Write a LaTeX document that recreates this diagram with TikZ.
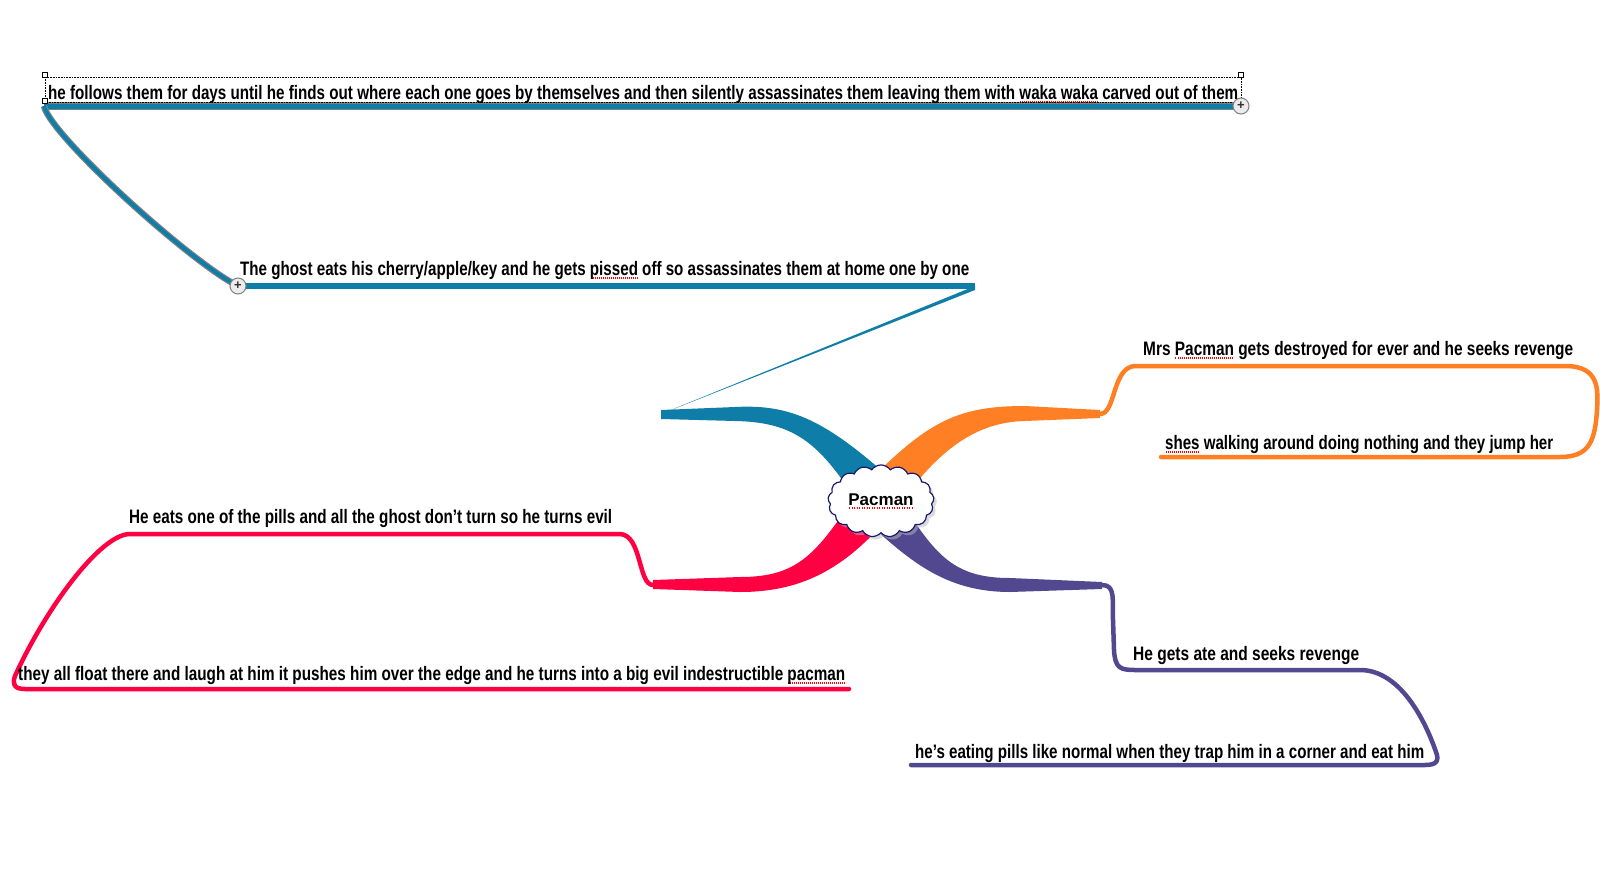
\documentclass[tikz,border=0pt]{standalone}
\usepackage{fontspec}
\setmainfont{Liberation Sans}
\usepackage{graphicx}
\usetikzlibrary{shapes.symbols, shadows, positioning, calc, backgrounds}
\definecolor{ghostBlue}{RGB}{14, 126, 168}
\definecolor{revengeOrange}{RGB}{255, 128, 36}
\definecolor{evilRed}{RGB}{255, 0, 66}
\definecolor{eatenPurple}{RGB}{82, 72, 144}
\definecolor{cloudNavy}{RGB}{24, 24, 110}
\definecolor{selectGray}{RGB}{128, 128, 128}
\newsavebox{\spellbox}
\newcommand{\fitw}[2]{\resizebox{#1}{\height}{#2}}
\newcommand{\spell}[1]{\sbox{\spellbox}{#1}\rlap{\raisebox{-3.5pt}{\color{red}\hbox to \wd\spellbox{\xleaders\hbox to 2.5pt{\hss\rule{1.2pt}{1.2pt}\hss}\hfil}}}\usebox{\spellbox}}

\begin{document}
\begin{tikzpicture}[
    x=1pt, y=-1pt,
    topic/.style={anchor=base west, inner sep=0pt, font=\fontsize{19.5}{22}\selectfont\bfseries},
    thread/.style={line width=4.5pt, line cap=round, line join=round},
    expander/.style={circle, draw=selectGray, fill=gray!15, inner sep=0pt, minimum size=16pt, line width=1pt, font=\bfseries\fontsize{13}{13}\selectfont, text=gray!40!black},
    handle/.style={rectangle, draw=black, fill=white, inner sep=0pt, minimum size=5pt, line width=0.6pt},
    central/.style={cloud, cloud puffs=17, cloud puff arc=110, aspect=1.6, draw=cloudNavy, line width=1.2pt, fill=white, minimum width=88pt, minimum height=56pt, font=\fontsize{17}{20}\selectfont\bfseries, drop shadow={shadow xshift=3pt, shadow yshift=-3pt, fill=gray!55}}
]
    \useasboundingbox (0,0) rectangle (1600,878);

    % Nodes
    \node[central] (pacman) at (881,501) {\spell{Pacman}};
    \node[topic] (follow) at (48,99) {\fitw{1190pt}{he follows them for days until he finds out where each one goes by themselves and then silently assassinates them leaving them with \spell{waka waka} carved out of them}};
    \node[topic] (ghost) at (240,275) {\fitw{729pt}{The ghost eats his cherry/apple/key and he gets \spell{pissed} off so assassinates them at home one by one}};
    \node[topic] (mrs) at (1143,355) {\fitw{430pt}{Mrs \spell{Pacman} gets destroyed for ever and he seeks revenge}};
    \node[topic] (shes) at (1165,449) {\fitw{388pt}{\spell{shes} walking around doing nothing and they jump her}};
    \node[topic] (pills) at (129,523) {\fitw{483pt}{He eats one of the pills and all the ghost don't turn so he turns evil}};
    \node[topic] (float) at (18,680) {\fitw{827pt}{they all float there and laugh at him it pushes him over the edge and he turns into a big evil indestructible \spell{pacman}}};
    \node[topic] (ate) at (1133,660) {\fitw{226pt}{He gets ate and seeks revenge}};
    \node[topic] (trap) at (915,758) {\fitw{509pt}{he's eating pills like normal when they trap him in a corner and eat him}};

    % selection marks
    \draw[densely dotted, line width=0.6pt] (45,77) rectangle (1241,102);
    \node[handle] (hdlA) at (45,75) {};
    \node[handle] (hdlB) at (1241,75) {};
    \node[handle] (hdlC) at (45,101) {};
    \node[expander] (plusTop) at (1241,106) {+};
    \node[expander] (plusGhost) at (238,286) {+};

    % Links
    \coordinate (followL) at (44,106);
    \coordinate (ghostR) at (975,286);
    \coordinate (blueEnd) at (661,414);
    \coordinate (orangeEnd) at (1100,414);
    \coordinate (redEnd) at (653,585);
    \coordinate (purpleEnd) at (1102,585);
    \begin{scope}[on background layer]
        \fill[white] (0,0) rectangle (1600,878);
        % main branches
        \fill[ghostBlue] (661,410) -- (735,407) .. controls (790,404) and (825,420) .. (890,478)
            -- (848,488) .. controls (815,440) and (790,422) .. (735,421) -- (661,419) -- cycle;
        \fill[revengeOrange] (1100,410) -- (1025,406) .. controls (960,406) and (930,420) .. (872,478)
            -- (912,488) .. controls (950,440) and (985,422) .. (1025,421) -- (1100,418) -- cycle;
        \fill[evilRed] (653,580) -- (740,577) .. controls (790,577) and (810,560) .. (840,518)
            -- (880,527) .. controls (840,570) and (800,592) .. (740,592) -- (653,589) -- cycle;
        \fill[eatenPurple] (1102,582) -- (1010,578) .. controls (960,578) and (940,560) .. (912,518)
            -- (876,530) .. controls (915,565) and (950,592) .. (1010,592) -- (1102,589) -- cycle;
        % sub branches
        \fill[ghostBlue] (blueEnd) -- (ghostR) -- ($(ghostR)+(0,4)$) -- cycle;
        \draw[ghostBlue, line width=6pt] (plusGhost.center) -- (ghostR);
        \draw[double=ghostBlue, double distance=5pt, draw=selectGray, line width=1.2pt] (followL) -- (plusTop.center);
        \draw[double=ghostBlue, double distance=4pt, draw=selectGray, line width=1.2pt] (followL) .. controls (50,135) and (190,262) .. (plusGhost.center);
        \draw[thread, revengeOrange] (orangeEnd) .. controls (1116,414) and (1112,367) .. (1135,366) -- (1565,366)
            .. controls (1600,366) and (1598,390) .. (1597,410) .. controls (1595,440) and (1590,457) .. (1560,457) -- (1161,457);
        \draw[thread, evilRed] (redEnd) .. controls (638,585) and (642,535) .. (620,534) -- (130,534)
            .. controls (100,534) and (45,610) .. (15,676) .. controls (12,684) and (14,689) .. (25,689) -- (849,689);
        \draw[thread, eatenPurple] (purpleEnd) .. controls (1116,585) and (1112,600) .. (1113,620) -- (1114,650)
            .. controls (1115,668) and (1120,670) .. (1135,670) -- (1360,670)
            .. controls (1400,670) and (1425,720) .. (1436,752) .. controls (1440,762) and (1435,765) .. (1425,765) -- (911,765);
    \end{scope}
\end{tikzpicture}
\end{document}
